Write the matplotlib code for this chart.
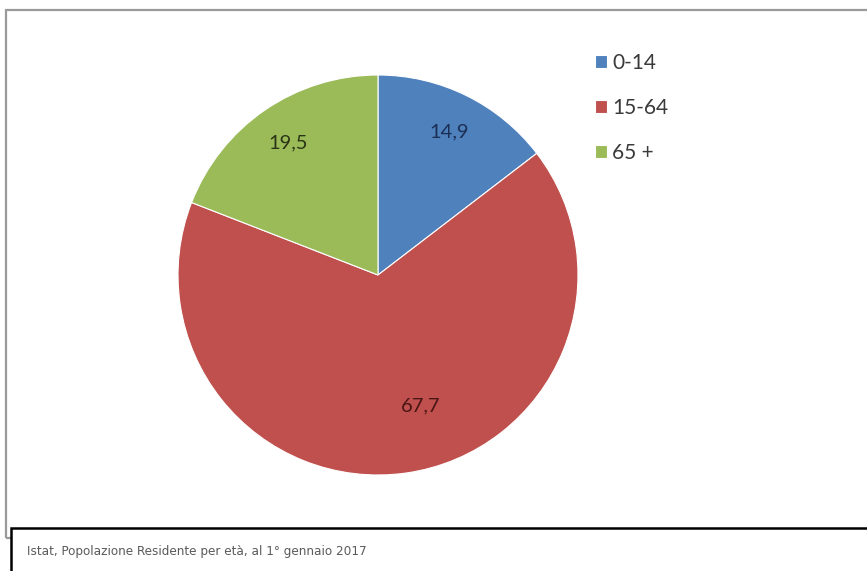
import matplotlib
matplotlib.use("Agg")
import matplotlib.pyplot as plt
from matplotlib.patches import Rectangle
import numpy as np

# Resident population by age group (percent)
categories = ["0-14", "15-64", "65 +"]
values = [14.9, 67.7, 19.5]
value_labels = ["14,9", "67,7", "19,5"]
colors = ["#4F81BD", "#C0504D", "#9BBB59"]
label_colors = ["#1B2F55", "#4A1515", "#2B3516"]
caption = "Istat, Popolazione Residente per età, al 1° gennaio 2017"

W, H = 867, 571
fig = plt.figure(figsize=(W / 100, H / 100), dpi=100)
fig.patch.set_facecolor("white")

def px(x, y):
    """Pixel position (from top-left) to figure fraction."""
    return x / W, 1 - y / H

# outer chart frame (left and top edges visible)
fig.add_artist(Rectangle(px(6, 538), (W + 20 - 6) / W, (538 - 10) / H,
                         transform=fig.transFigure, fill=False,
                         edgecolor="#9a9a9a", linewidth=1.6, zorder=1))

# pie axes: center (378, 275), radius 200 px
cx, cy, r = 378, 275, 200
ax = fig.add_axes([(cx - r) / W, (H - cy - r) / H, 2 * r / W, 2 * r / H])
wedges, _ = ax.pie(values, colors=colors, startangle=90, counterclock=False,
                   radius=1.0, wedgeprops=dict(linewidth=0.8, edgecolor="white"))
ax.set_xlim(-1, 1)
ax.set_ylim(-1, 1)
ax.set_aspect("equal")
ax.axis("off")

# data labels inside the slices
label_dist = [0.80, 0.69, 0.80]
label_shift = [0.0, 10.0, 0.0]
for w, txt, d, s, c in zip(wedges, value_labels, label_dist, label_shift, label_colors):
    mid = np.deg2rad((w.theta1 + w.theta2) / 2 + s)
    ax.text(d * np.cos(mid), d * np.sin(mid), txt, ha="center", va="center",
            fontsize=14.5, family="Lato", color=c)

# legend
leg = fig.legend(wedges, categories, loc="upper left",
                 bbox_to_anchor=px(576, 34), frameon=False,
                 handlelength=0.6, handleheight=0.6, handletextpad=0.25,
                 labelspacing=1.2, prop=dict(family="Lato", size=15))
for t in leg.get_texts():
    t.set_color("#3a3a3a")

# caption box
fig.add_artist(Rectangle(px(11, 600), (W + 20) / W, (600 - 528) / H,
                         transform=fig.transFigure, facecolor="white",
                         edgecolor="black", linewidth=1.8, zorder=3))
fig.text(*px(27, 552), caption, ha="left", va="center", fontsize=9.6,
         family="DejaVu Sans", stretch="condensed", color="#5a5a5a", zorder=4)

fig.savefig("out.png", dpi=100, facecolor="white")
